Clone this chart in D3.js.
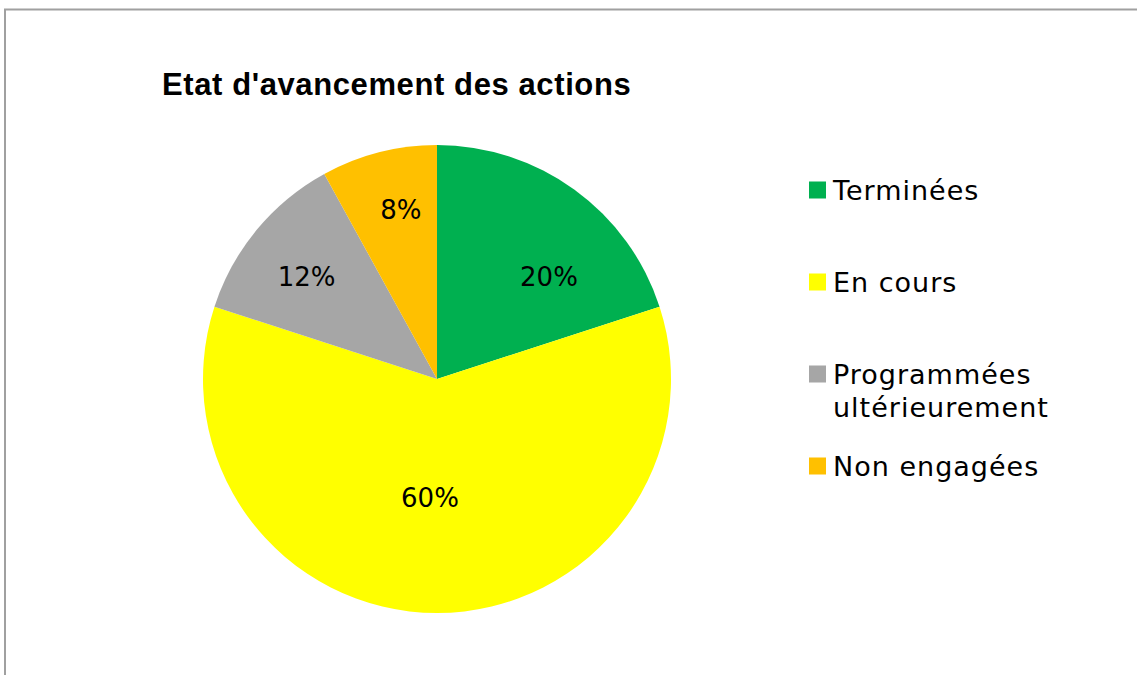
<!DOCTYPE html>
<html>
<head>
<meta charset="utf-8">
<script src="https://cdn.jsdelivr.net/npm/d3@7"></script>
<style>
  body { margin: 0; background: #fff; }
  svg text { fill: #000; }
</style>
</head>
<body>
<div id="chart"></div>
<script>
// chart data
var categories = ["Terminées", "En cours", "Programmées ultérieurement", "Non engagées"];
var legendLines = [["Terminées"], ["En cours"], ["Programmées", "ultérieurement"], ["Non engagées"]];
var values = [20, 60, 12, 8];
var colors = ["#00b050", "#ffff00", "#a6a6a6", "#ffc000"];
var title = "Etat d'avancement des actions";

// label placement (excel "best fit" puts them a bit off the centroid)
var labelRadius = [0.648, 0.508, 0.708, 0.739];
var labelShift = [11.6, 3.4, -1.5, 2.3]; // degrees

var width = 1137;
var height = 675;
var cx = 437, cy = 379, radius = 234;
var labelFont = "'DejaVu Sans', sans-serif";

var svg = d3.select("#chart").append("svg")
    .attr("width", width)
    .attr("height", height);

// chart area border (only left + top visible in the crop)
svg.append("path")
    .attr("d", "M5," + height + "V9.5H" + width)
    .attr("fill", "none")
    .attr("stroke", "#a0a0a0")
    .attr("stroke-width", 2);

svg.append("text")
    .attr("x", 162)
    .attr("y", 95)
    .attr("font-family", "'Liberation Sans', Arial, sans-serif")
    .attr("font-weight", "bold")
    .attr("font-size", 31)
    .attr("letter-spacing", 0.6)
    .text(title);

var pie = d3.pie().sort(null).value(function(d) { return d; });
var arcs = pie(values);
var arc = d3.arc().innerRadius(0).outerRadius(radius);

var g = svg.append("g").attr("transform", "translate(" + cx + "," + cy + ")");

g.selectAll("path.slice")
    .data(arcs)
    .enter()
    .append("path")
    .attr("class", "slice")
    .attr("d", arc)
    .attr("fill", function(d, i) { return colors[i]; });

g.selectAll("text.lbl")
    .data(arcs)
    .enter()
    .append("text")
    .attr("class", "lbl")
    .attr("transform", function(d, i) {
      var a = (d.startAngle + d.endAngle) / 2 + labelShift[i] * Math.PI / 180;
      var r = radius * labelRadius[i];
      return "translate(" + (r * Math.sin(a)) + "," + (-r * Math.cos(a)) + ")";
    })
    .attr("text-anchor", "middle")
    .attr("dy", "0.36em")
    .attr("font-family", labelFont)
    .attr("font-size", 26)
    .text(function(d) { return d.value + "%"; });

// legend
var legendY = d3.scalePoint().domain(d3.range(categories.length)).range([190, 466]);

var legend = svg.append("g").selectAll("g")
    .data(categories)
    .enter()
    .append("g")
    .attr("transform", function(d, i) { return "translate(809," + legendY(i) + ")"; });

legend.append("rect")
    .attr("x", 0)
    .attr("y", -8.5)
    .attr("width", 17)
    .attr("height", 17)
    .attr("fill", function(d, i) { return colors[i]; });

legend.append("text")
    .attr("x", 24)
    .attr("y", 0)
    .attr("font-family", labelFont)
    .attr("font-size", 27)
    .attr("letter-spacing", 1)
    .selectAll("tspan")
    .data(function(d, i) { return legendLines[i]; })
    .enter()
    .append("tspan")
    .attr("x", 24)
    .attr("dy", function(d, j) { return j === 0 ? "0.36em" : "1.22em"; })
    .text(function(d) { return d; });
</script>
</body>
</html>
